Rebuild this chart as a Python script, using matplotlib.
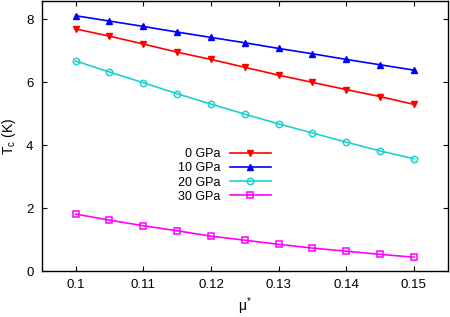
import matplotlib
matplotlib.use('Agg')
import matplotlib.pyplot as plt

plt.rcParams['font.family'] = ['Liberation Sans', 'DejaVu Sans']
plt.rcParams['mathtext.fontset'] = 'custom'
plt.rcParams['mathtext.rm'] = 'Liberation Sans'
plt.rcParams['mathtext.it'] = 'Liberation Sans'

# mu* values and Tc (K) for each pressure
mu = [0.100, 0.105, 0.110, 0.115, 0.120, 0.125, 0.130, 0.135, 0.140, 0.145, 0.150]
tc_0 = [7.70, 7.47, 7.22, 6.96, 6.73, 6.48, 6.23, 6.00, 5.77, 5.55, 5.30]
tc_10 = [8.12, 7.95, 7.78, 7.60, 7.43, 7.26, 7.08, 6.91, 6.73, 6.56, 6.39]
tc_20 = [6.68, 6.33, 5.99, 5.64, 5.31, 4.99, 4.68, 4.39, 4.10, 3.82, 3.57]
tc_30 = [1.81, 1.62, 1.44, 1.28, 1.11, 0.98, 0.85, 0.73, 0.63, 0.53, 0.44]

labels = ['0 GPa', '10 GPa', '20 GPa', '30 GPa']
x_ticks = [0.1, 0.11, 0.12, 0.13, 0.14, 0.15]
y_ticks = [0, 2, 4, 6, 8]

fig = plt.figure(figsize=(4.5, 3.17), dpi=100)
ax = fig.add_axes([0.093, 0.145, 0.902, 0.853])

ax.plot(mu, tc_0, color='#ff0000', marker='v', ms=4.8, lw=1.2, label=labels[0])
ax.plot(mu, tc_10, color='#0000ff', marker='^', ms=4.8, lw=1.2, label=labels[1])
ax.plot(mu, tc_20, color='#20d0d0', marker='o', ms=4.6, mfc='none', mew=1.1, lw=1.2, label=labels[2])
ax.plot(mu, tc_30, color='#ff00ff', marker='s', ms=4.2, mfc='none', mew=1.1, lw=1.2, label=labels[3])

ax.set_xlim(0.095, 0.155)
ax.set_ylim(0, 8.6)
ax.set_xticks(x_ticks)
ax.set_xticklabels(['0.1', '0.11', '0.12', '0.13', '0.14', '0.15'])
ax.set_yticks(y_ticks)
ax.tick_params(direction='in', top=True, right=True, length=3.5, labelsize=9.5, pad=6)
for s in ax.spines.values():
    s.set_linewidth(1.0)

ax.set_xlabel(r'μ$^{*}$', fontsize=10, labelpad=3)
ax.set_ylabel(r'T$_{\rm c}$ (K)', fontsize=10, labelpad=6)

ax.legend(loc='upper right', bbox_to_anchor=(0.564, 0.455), frameon=False,
          markerfirst=False, handlelength=3.3, handletextpad=0.7,
          labelspacing=0.18, fontsize=9, borderaxespad=0, borderpad=0)

plt.savefig('out.png', dpi=100)
plt.close()
